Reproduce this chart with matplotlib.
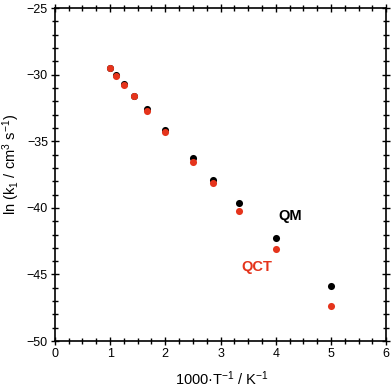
import matplotlib
matplotlib.use("Agg")
import matplotlib.pyplot as plt
from matplotlib.ticker import MultipleLocator

plt.rcParams['font.family'] = ['Liberation Sans', 'DejaVu Sans']
plt.rcParams['mathtext.default'] = 'regular'

# 1000/T values
inv_t = [1.0, 1.111, 1.25, 1.429, 1.667, 2.0, 2.5, 2.857, 3.333, 4.0, 5.0]
ln_k_qm = [-29.48, -30.05, -30.73, -31.58, -32.58, -34.13, -36.28, -37.9, -39.66, -42.24, -45.87]
ln_k_qct = [-29.53, -30.1, -30.78, -31.63, -32.73, -34.28, -36.53, -38.16, -40.24, -43.09, -47.35]

red = '#e5341c'

fig = plt.figure(figsize=(3.92, 3.88), dpi=100)
ax = fig.add_axes([0.140, 0.121, 0.845, 0.858])

ax.scatter(inv_t, ln_k_qm, s=26, color='black', zorder=3, linewidths=0)
ax.scatter(inv_t, ln_k_qct, s=26, color=red, zorder=4, linewidths=0)

ax.text(4.26, -40.6, 'QM', color='black', fontsize=10.5, fontweight='bold', ha='center', va='center')
ax.text(3.65, -44.45, 'QCT', color=red, fontsize=10.5, fontweight='bold', ha='center', va='center')

ax.set_xlim(0, 6)
ax.set_ylim(-50, -25)
ax.xaxis.set_major_locator(MultipleLocator(1))
ax.xaxis.set_minor_locator(MultipleLocator(0.25))
ax.yaxis.set_major_locator(MultipleLocator(5))
ax.yaxis.set_minor_locator(MultipleLocator(1))
ax.tick_params(which='both', direction='inout', top=True, right=True, labelsize=9, width=1, pad=2)
ax.tick_params(which='major', length=6)
ax.tick_params(which='minor', length=4)
for sp in ax.spines.values():
    sp.set_linewidth(1.2)

ax.set_xlabel('1000·T$^{-1}$ / K$^{-1}$', fontsize=10.5)
ax.set_ylabel('ln (k$_1$ / cm$^3$ s$^{-1}$)', fontsize=10.5)
ax.xaxis.set_label_coords(0.503, -0.085)
ax.yaxis.set_label_coords(-0.1, 0.53)

fig.savefig('out.png', dpi=100)
